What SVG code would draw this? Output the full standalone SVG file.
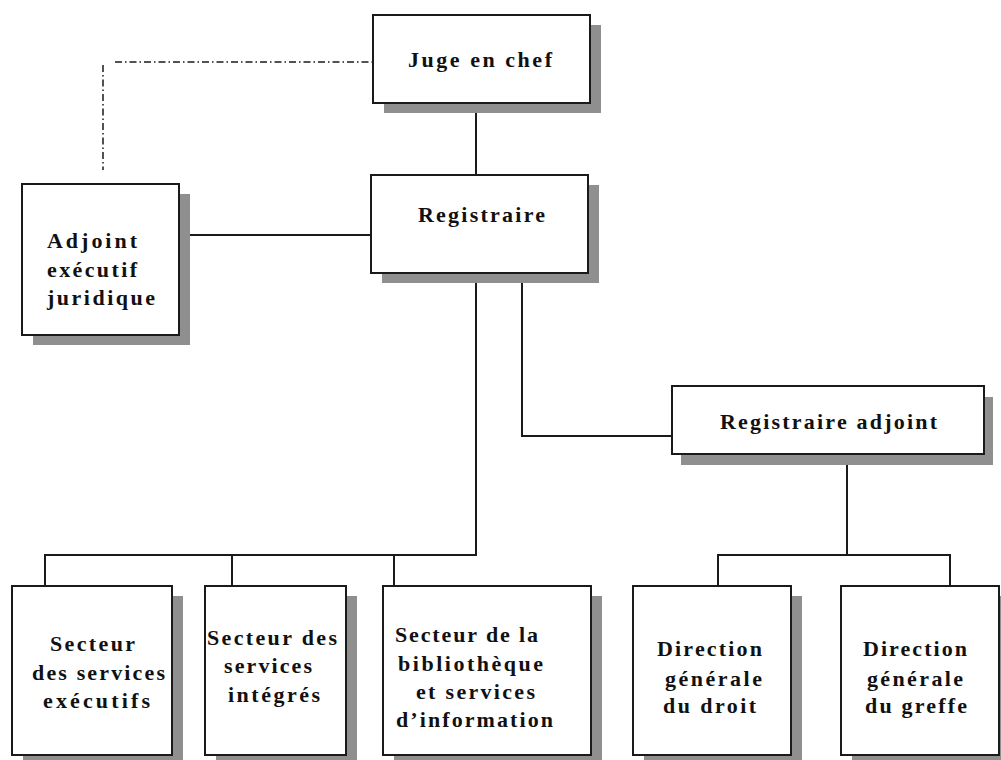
<svg xmlns="http://www.w3.org/2000/svg" width="1001" height="760" viewBox="0 0 1001 760">
<style>
.bg{fill:#ffffff}
.sh{fill:#8f8f8f}
.box{fill:#ffffff;stroke:#1a1a1a;stroke-width:2}
.ln{fill:none;stroke:#1a1a1a;stroke-width:2}
.dd{fill:none;stroke:#1a1a1a;stroke-width:1.5;stroke-dasharray:7,3,1.5,3}
text{font-family:"Liberation Serif","Times New Roman",serif;font-weight:bold;font-size:22px;fill:#111111}
</style>
<rect class="bg" x="0" y="0" width="1001" height="760"/>
<g id="connectors">
<line class="dd" x1="115" y1="62" x2="375" y2="62"/>
<line class="dd" x1="103" y1="65" x2="103" y2="170"/>
<line class="ln" x1="476" y1="103" x2="476" y2="175"/>
<line class="ln" x1="180" y1="235" x2="371" y2="235"/>
<polyline class="ln" points="476,273 476,555 45,555 45,586"/>
<line class="ln" x1="232" y1="555" x2="232" y2="586"/>
<line class="ln" x1="394" y1="555" x2="394" y2="586"/>
<polyline class="ln" points="522,273 522,436 672,436"/>
<line class="ln" x1="847" y1="454" x2="847" y2="555"/>
<polyline class="ln" points="718,586 718,555 950,555 950,586"/>
</g>
<g id="juge">
<rect class="sh" x="384" y="25" width="217" height="88"/>
<rect class="box" x="373" y="15" width="217" height="88"/>
<text x="408" y="67" textLength="144" lengthAdjust="spacing">Juge en chef</text>
</g>
<g id="registraire">
<rect class="sh" x="382" y="185" width="217" height="98"/>
<rect class="box" x="371" y="175" width="217" height="98"/>
<text x="418" y="222" textLength="127" lengthAdjust="spacing">Registraire</text>
</g>
<g id="adjoint-executif">
<rect class="sh" x="33" y="194" width="157" height="151"/>
<rect class="box" x="22" y="184" width="157" height="151"/>
<text x="47" y="248" textLength="90" lengthAdjust="spacing">Adjoint</text>
<text x="47" y="277" textLength="90" lengthAdjust="spacing">exécutif</text>
<text x="47" y="305" textLength="108" lengthAdjust="spacing">juridique</text>
</g>
<g id="registraire-adjoint">
<rect class="sh" x="681" y="397" width="312" height="68"/>
<rect class="box" x="672" y="386" width="312" height="68"/>
<text x="720" y="429" textLength="217" lengthAdjust="spacing">Registraire adjoint</text>
</g>
<g id="secteur-executifs">
<rect class="sh" x="23" y="596" width="160" height="169"/>
<rect class="box" x="12" y="586" width="160" height="169"/>
<text x="50" y="651" textLength="85" lengthAdjust="spacing">Secteur</text>
<text x="32" y="680" textLength="133" lengthAdjust="spacing">des services</text>
<text x="43" y="708" textLength="107" lengthAdjust="spacing">exécutifs</text>
</g>
<g id="secteur-integres">
<rect class="sh" x="216" y="596" width="141" height="169"/>
<rect class="box" x="205" y="586" width="141" height="169"/>
<text x="207" y="645" textLength="130" lengthAdjust="spacing">Secteur des</text>
<text x="224" y="673" textLength="88" lengthAdjust="spacing">services</text>
<text x="228" y="702" textLength="92" lengthAdjust="spacing">intégrés</text>
</g>
<g id="secteur-bibliotheque">
<rect class="sh" x="394" y="596" width="208" height="169"/>
<rect class="box" x="383" y="586" width="208" height="169"/>
<text x="395" y="642" textLength="143" lengthAdjust="spacing">Secteur de la</text>
<text x="398" y="671" textLength="145" lengthAdjust="spacing">bibliothèque</text>
<text x="416" y="699" textLength="119" lengthAdjust="spacing">et services</text>
<text x="396" y="727" textLength="157" lengthAdjust="spacing">d’information</text>
</g>
<g id="direction-droit">
<rect class="sh" x="644" y="596" width="158" height="169"/>
<rect class="box" x="633" y="586" width="158" height="169"/>
<text x="657" y="656" textLength="105" lengthAdjust="spacing">Direction</text>
<text x="665" y="686" textLength="97" lengthAdjust="spacing">générale</text>
<text x="663" y="713" textLength="93" lengthAdjust="spacing">du droit</text>
</g>
<g id="direction-greffe">
<rect class="sh" x="852" y="596" width="158" height="169"/>
<rect class="box" x="841" y="586" width="158" height="169"/>
<text x="863" y="656" textLength="104" lengthAdjust="spacing">Direction</text>
<text x="867" y="686" textLength="96" lengthAdjust="spacing">générale</text>
<text x="865" y="713" textLength="102" lengthAdjust="spacing">du greffe</text>
</g>
</svg>
